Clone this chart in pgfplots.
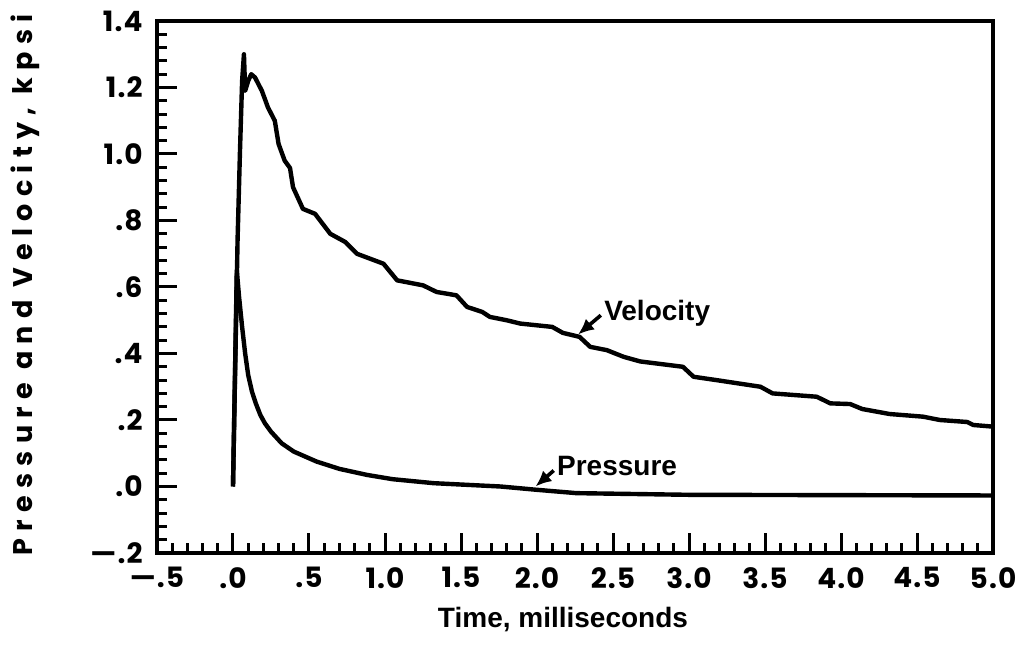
\documentclass[border=0pt]{standalone}
\usepackage{fontspec}
\usepackage{pgfplots}
\pgfplotsset{compat=1.18}
\usetikzlibrary{arrows.meta}
\setmainfont{Liberation Sans}
\newfontfamily\popticks[LetterSpace=4]{Poppins}
\newfontfamily\poplabel[LetterSpace=27]{Poppins}

\begin{document}
\begin{tikzpicture}
\useasboundingbox (-78.5pt,-52.5pt) rectangle (438pt,276.5pt);
\begin{axis}[
  scale only axis, width=418pt, height=266pt,
  xmin=-0.5, xmax=5, ymin=-0.2, ymax=1.4,
  axis line style={line width=2pt},
  xtick={-0.5,0,0.5,1,1.5,2,2.5,3,3.5,4,4.5,5},
  xticklabels={—.5,.0,.5,1.0,1.5,2.0,2.5,3.0,3.5,4.0,4.5,5.0},
  ytick={-0.2,0,0.2,0.4,0.6,0.8,1.0,1.2,1.4},
  yticklabels={—.2,.0,.2,.4,.6,.8,1.0,1.2,1.4},
  minor x tick num=4, minor y tick num=4,
  tick align=inside, xtick pos=bottom, ytick pos=left,
  major tick length=10pt, minor tick length=5pt,
  every tick/.style={line width=1.5pt, black},
  tick label style={font=\popticks\bfseries\fontsize{14}{14}\selectfont},
  xticklabel style={inner sep=0pt, anchor=north, yshift=-7pt},
  yticklabel style={inner sep=0pt, anchor=east, xshift=-7pt},
  xlabel={Time, milliseconds},
  xlabel style={font=\bfseries\fontsize{14}{16}\selectfont, at={(axis description cs:0.5,0)}, anchor=center, yshift=-33.5pt, xshift=-6pt},
  ylabel={Pressure and Velocity, kpsi},
  ylabel style={font=\poplabel\bfseries\fontsize{13.5}{15}\selectfont, at={(axis description cs:0,0.5)}, anchor=center, yshift=66pt, xshift=1pt},
  clip=false,
]
\addplot[black, line width=2.2pt, line join=round] coordinates {
(0.0,0.0) (0.03,0.74) (0.046,1.01) (0.06,1.22) (0.072,1.30) (0.08,1.19)
(0.10,1.22) (0.12,1.24) (0.145,1.23) (0.19,1.19) (0.23,1.14) (0.275,1.10)
(0.30,1.03) (0.34,0.98) (0.375,0.958) (0.395,0.90) (0.46,0.835) (0.54,0.82)
(0.64,0.76) (0.74,0.735) (0.815,0.70) (0.99,0.67) (1.08,0.62) (1.25,0.605)
(1.34,0.585) (1.47,0.575) (1.54,0.54) (1.64,0.525) (1.69,0.51) (1.80,0.50)
(1.89,0.49) (2.10,0.48) (2.17,0.462) (2.28,0.45) (2.35,0.42) (2.46,0.41)
(2.57,0.39) (2.68,0.376) (2.96,0.36) (3.03,0.33) (3.18,0.32) (3.47,0.30)
(3.55,0.28) (3.84,0.27) (3.93,0.25) (4.06,0.248) (4.14,0.233) (4.32,0.218)
(4.54,0.21) (4.65,0.20) (4.83,0.194) (4.87,0.185) (5.0,0.18)
};
\addplot[black, line width=2.2pt, line join=round] coordinates {
(0.0,0.0) (0.025,0.65) (0.04,0.57) (0.06,0.48) (0.08,0.40) (0.10,0.335)
(0.125,0.285) (0.15,0.25) (0.18,0.215) (0.21,0.19) (0.25,0.165) (0.32,0.13)
(0.40,0.105) (0.55,0.075) (0.70,0.053) (0.88,0.035) (1.05,0.022) (1.32,0.01)
(1.76,0.0) (2.0,-0.01) (2.26,-0.02) (3.0,-0.025) (5.0,-0.027)
};
\node[font=\bfseries\fontsize{14}{16}\selectfont, anchor=base west, inner sep=0pt] at (axis cs:2.44,0.50) {Velocity};
\draw[line width=1.8pt, -{Latex[length=8pt,width=7pt]}] (axis cs:2.42,0.515) -- (axis cs:2.27,0.457);
\node[font=\bfseries\fontsize{14}{16}\selectfont, anchor=base west, inner sep=0pt] at (axis cs:2.13,0.033) {Pressure};
\draw[line width=1.8pt, -{Latex[length=8pt,width=7pt]}] (axis cs:2.11,0.048) -- (axis cs:1.99,0.0);
\end{axis}
\end{tikzpicture}
\end{document}
